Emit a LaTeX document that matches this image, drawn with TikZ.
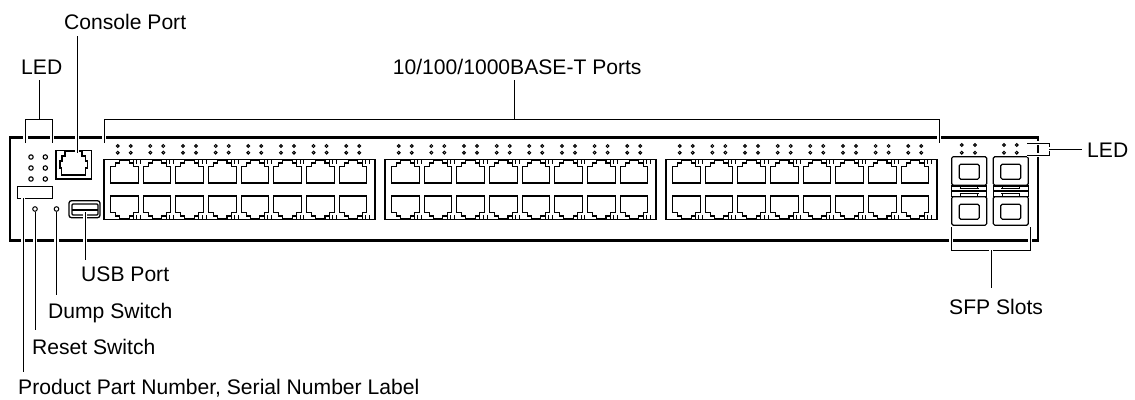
\documentclass[tikz,border=0pt]{standalone}
\usepackage{fontspec}
\setmainfont{Liberation Sans}
\tikzset{
	callout/.style={inner sep=0pt,anchor=base west,font=\fontsize{21.1}{24}\selectfont},
	leader/.style={line width=0.95pt,preaction={draw=white,line width=4.5pt}},
	chassis/.style={line width=2.8pt,line join=miter},
	part/.style={line width=1.15pt},
	led/.style={line width=1pt,fill=white},
	pics/rjport/.style={code={
		\draw[part] (0,0) -- (0,-16.5) -- (5,-16.5) -- (5,-20) -- (9,-20) -- (9,-23) -- (18.5,-23) -- (18.5,-20) -- (23,-20) -- (23,-16.5) -- (27.6,-16.5) -- (27.6,0) -- cycle;
		\draw[line width=0.8pt] (22.8,-23) -- (22.8,-19) (26.2,-23) -- (26.2,-19) (30,-23) -- (30,-19);
	}},
	pics/sfpcage/.style={code={
		\draw[part,rounded corners=1.5pt] (0,0) rectangle (35,28.5);
		\draw[part,rounded corners=1.5pt] (7.5,7.5) rectangle (27.5,22.5);
	}}
}
\begin{document}
\begin{tikzpicture}[x=1pt,y=-1pt]
	\useasboundingbox (0,0) rectangle (1135,399);
	\coordinate (LedTop) at (39,80);
	\coordinate (LedTick) at (39,119);
	\coordinate (ConsoleTop) at (77,36);
	\coordinate (ConsoleEnd) at (77,153);
	\coordinate (PortsTop) at (514.7,80);
	\coordinate (PortsTick) at (514.7,119);
	\coordinate (UsbEnd) at (85,212);
	\coordinate (UsbBottom) at (85,260);
	\coordinate (LabelEnd) at (23,198);
	\coordinate (LabelBottom) at (23,372);
	\coordinate (ResetEnd) at (35,212);
	\coordinate (ResetBottom) at (35,330);
	\coordinate (DumpEnd) at (56.5,212);
	\coordinate (DumpBottom) at (56.5,295);
	\coordinate (SfpTick) at (991,250);
	\coordinate (SfpBottom) at (991,288);
	\coordinate (SfpLedTick) at (1049,149);
	\coordinate (SfpLedEnd) at (1082,149);

	\node[callout] (lblConsole) at (64,29) {Console Port};
	\node[callout] (lblLedLeft) at (21,74) {LED};
	\node[callout] (lblPorts) at (392.7,74) {10/100/1000BASE-T Ports};
	\node[callout] (lblLedRight) at (1087,157) {LED};
	\node[callout] (lblUsb) at (81,281) {USB Port};
	\node[callout] (lblDump) at (48,318) {Dump Switch};
	\node[callout] (lblReset) at (32,354) {Reset Switch};
	\node[callout] (lblSfp) at (949,314) {SFP Slots};
	\node[callout] (lblProduct) at (18,394) {Product Part Number, Serial Number Label};

	% chassis
	\draw[chassis] (10,137.5) rectangle (1038,240.5);

	% left panel
	\foreach \ledx in {31,45.3}
		\foreach \ledy in {157,168,179}
			\draw[led,line width=1.1pt] (\ledx,\ledy) circle (2.2);
	\draw[part,line width=1pt] (17.5,198) -- (17.5,186) -- (52,186) -- (52,198) -- cycle;
	\draw[led] (35,209) circle (2.3);
	\draw[led] (56.5,209) circle (2.3);

	% console port
	\draw[part,line width=1.3pt] (56,150.5) rectangle (91.5,179);
	\draw[part] (61.7,175) -- (61.7,168) -- (60,168) -- (60,161) -- (62,161) -- (62,156) -- (65,156) -- (65,151.5) -- (82,151.5) -- (82,156) -- (85.5,156) -- (85.5,161) -- (87.5,161) -- (87.5,168) -- (85.5,168) -- (85.5,175) -- cycle;

	% usb port
	\draw[part,line width=1.3pt,rounded corners=2.5pt] (69,200.7) rectangle (100,217.7);
	\draw[part,rounded corners=1pt] (72,204) rectangle (98,215);
	\draw[part] (72,210) -- (98,210);

	% port blocks
	\foreach \blockx in {104,385,666}{
		\draw[part] (\blockx,159.7) rectangle ++(271,59.6);
		\foreach \tabx in {\blockx,\blockx+271}{
			\fill (\tabx-1.3,171.7) rectangle ++(2.6,9.3);
			\fill (\tabx-1.3,198.5) rectangle ++(2.6,9.3);
		}
		\foreach \n in {0,...,7}{
			\pic at (\blockx+6.6+32.65*\n,183) {rjport};
			\pic[yscale=-1] at (\blockx+6.6+32.65*\n,196) {rjport};
			\foreach \dotx in {13.7,26.7}
				\foreach \doty in {146,152.7}
					\draw[led] (\blockx+\dotx+32.65*\n,\doty) circle (1.4);
		}
	}

	% sfp slots
	\foreach \cagex/\dota/\dotb in {951.7/961.7/975,993.3/1004/1016.7}{
		\foreach \doty in {145,152.7}{
			\draw[led] (\dota,\doty) circle (1.4);
			\draw[led] (\dotb,\doty) circle (1.4);
		}
		\draw[part] (\cagex,186) rectangle ++(35,10.5);
		\draw[part] (\cagex,191) -- ++(35,0);
		\draw[part] (\cagex+8,188.7) -- ++(19,0) ++(-19,5) -- ++(19,0);
		\draw[part] (\cagex+9,186) -- ++(0,2.7) ++(17,-2.7) -- ++(0,2.7);
		\draw[part] (\cagex+9,196.5) -- ++(0,-2.8) ++(17,2.8) -- ++(0,-2.8);
		\pic[fill=white] at (\cagex,156.7) {sfpcage};
		\pic[fill=white] at (\cagex,196.7) {sfpcage};
	}

	% leaders
	\draw[leader] (25.5,143) -- (25.5,119) -- (52,119) -- (52,143);
	\draw[leader] (LedTop) -- (LedTick);
	\draw[leader] (ConsoleTop) -- (ConsoleEnd);
	\draw[leader] (104,143) -- (104,119) -- (939,119) -- (939,143);
	\draw[leader] (PortsTop) -- (PortsTick);
	\draw[leader] (UsbEnd) -- (UsbBottom);
	\draw[leader] (LabelEnd) -- (LabelBottom);
	\draw[leader] (ResetEnd) -- (ResetBottom);
	\draw[leader] (DumpEnd) -- (DumpBottom);
	\draw[leader] (951,227) -- (951,250) -- (1030,250) -- (1030,227);
	\draw[leader] (SfpTick) -- (SfpBottom);
	\draw[leader] (1027,143) -- (1049,143) -- (1049,155) -- (1027,155);
	\draw[leader] (SfpLedTick) -- (SfpLedEnd);
\end{tikzpicture}
\end{document}
